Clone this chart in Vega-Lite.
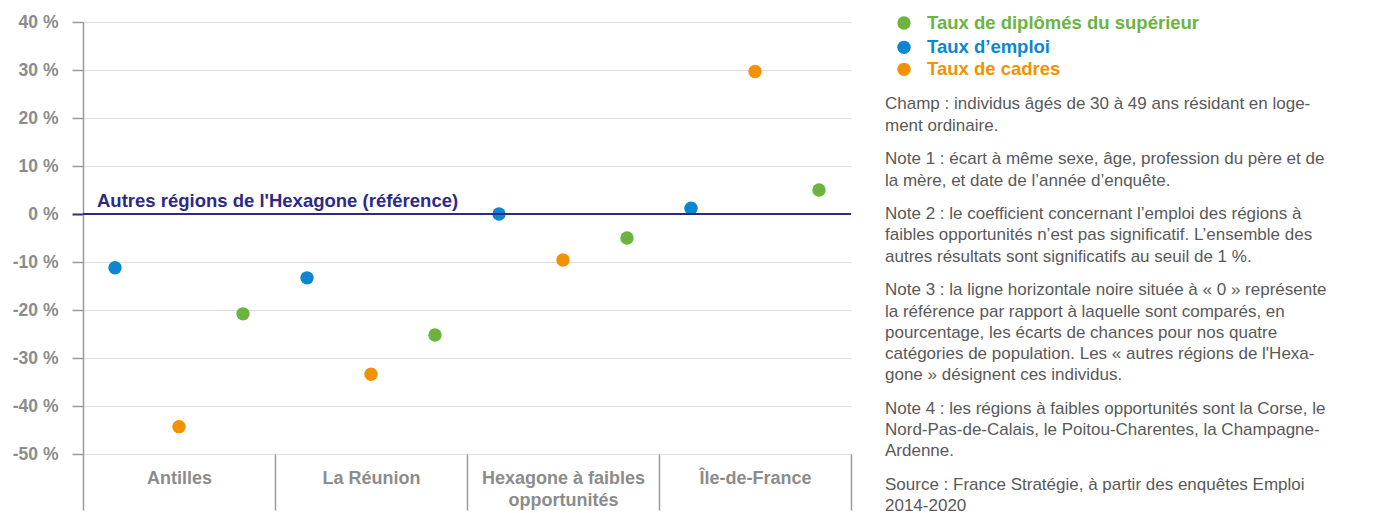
{
  "$schema": "https://vega.github.io/schema/vega-lite/v6.json",
  "padding": {"top": 13, "left": 5, "right": 5, "bottom": 0},
  "background": "white",
  "config": {"view": {"stroke": null}, "font": "Liberation Sans", "concat": {"spacing": 33}},
  "datasets": {
    "points": [
      {"region": "Antilles", "serie": "Taux d’emploi", "valeur": -11.2},
      {"region": "Antilles", "serie": "Taux de cadres", "valeur": -44.3},
      {"region": "Antilles", "serie": "Taux de diplômés du supérieur", "valeur": -20.8},
      {"region": "La Réunion", "serie": "Taux d’emploi", "valeur": -13.3},
      {"region": "La Réunion", "serie": "Taux de cadres", "valeur": -33.4},
      {"region": "La Réunion", "serie": "Taux de diplômés du supérieur", "valeur": -25.2},
      {"region": "Hexagone à faibles opportunités", "serie": "Taux d’emploi", "valeur": 0.0},
      {"region": "Hexagone à faibles opportunités", "serie": "Taux de cadres", "valeur": -9.6},
      {"region": "Hexagone à faibles opportunités", "serie": "Taux de diplômés du supérieur", "valeur": -5.0},
      {"region": "Île-de-France", "serie": "Taux d’emploi", "valeur": 1.2},
      {"region": "Île-de-France", "serie": "Taux de cadres", "valeur": 29.7},
      {"region": "Île-de-France", "serie": "Taux de diplômés du supérieur", "valeur": 5.0}
    ],
    "legende": [
      {"serie": "Taux de diplômés du supérieur", "ligne": -3.85},
      {"serie": "Taux d’emploi", "ligne": -2.7},
      {"serie": "Taux de cadres", "ligne": -1.66}
    ],
    "notes": [
      {"texte": "Champ : individus âgés de 30 à 49 ans résidant en loge-", "ligne": 0},
      {"texte": "ment ordinaire.", "ligne": 1},
      {"texte": "Note 1 : écart à même sexe, âge, profession du père et de", "ligne": 2.6},
      {"texte": "la mère, et date de l’année d’enquête.", "ligne": 3.6},
      {"texte": "Note 2 : le coefficient concernant l’emploi des régions à", "ligne": 5.2},
      {"texte": "faibles opportunités n’est pas significatif. L’ensemble des", "ligne": 6.2},
      {"texte": "autres résultats sont significatifs au seuil de 1 %.", "ligne": 7.2},
      {"texte": "Note 3 : la ligne horizontale noire située à « 0 » représente", "ligne": 8.8},
      {"texte": "la référence par rapport à laquelle sont comparés, en", "ligne": 9.8},
      {"texte": "pourcentage, les écarts de chances pour nos quatre", "ligne": 10.8},
      {"texte": "catégories de population. Les « autres régions de l'Hexa-", "ligne": 11.8},
      {"texte": "gone » désignent ces individus.", "ligne": 12.8},
      {"texte": "Note 4 : les régions à faibles opportunités sont la Corse, le", "ligne": 14.4},
      {"texte": "Nord-Pas-de-Calais, le Poitou-Charentes, la Champagne-", "ligne": 15.4},
      {"texte": "Ardenne.", "ligne": 16.4},
      {"texte": "Source : France Stratégie, à partir des enquêtes Emploi", "ligne": 18.0},
      {"texte": "2014-2020", "ligne": 19.0}
    ]
  },
  "hconcat": [
    {
      "width": 768,
      "height": 432,
      "layer": [
        {
          "data": {"name": "points"},
          "mark": {"type": "circle", "size": 180, "opacity": 1},
          "encoding": {
            "x": {
              "field": "region", "type": "nominal",
              "scale": {"domain": ["Antilles", "La Réunion", "Hexagone à faibles opportunités", "Île-de-France"], "paddingInner": 0, "paddingOuter": 0},
              "axis": {
                "title": null, "domain": false, "grid": false,
                "tickBand": "extent", "tickSize": 56, "tickColor": "#9a9a9a", "tickWidth": 1.5,
                "labelPadding": -41, "labelAngle": 0,
                "labelFontWeight": "bold", "labelFontSize": 18, "labelColor": "#8c8c8c",
                "labelLineHeight": 22,
                "labelExpr": "datum.label == 'Hexagone à faibles opportunités' ? ['Hexagone à faibles', 'opportunités'] : datum.label"
              }
            },
            "xOffset": {
              "field": "serie", "type": "nominal",
              "scale": {"domain": ["Taux d’emploi", "Taux de cadres", "Taux de diplômés du supérieur"], "padding": 0.5}
            },
            "y": {
              "field": "valeur", "type": "quantitative",
              "scale": {"domain": [-50, 40], "nice": false},
              "axis": {
                "title": null, "values": [-50, -40, -30, -20, -10, 0, 10, 20, 30, 40],
                "labelExpr": "datum.value + ' %'",
                "labelFontWeight": "bold", "labelFontSize": 17.5, "labelColor": "#8c8c8c",
                "tickSize": 11, "labelPadding": 14,
                "tickColor": {"condition": {"test": "datum.value === 0", "value": "#2e2a84"}, "value": "#9a9a9a"},
                "tickWidth": {"condition": {"test": "datum.value === 0", "value": 2}, "value": 1.5},
                "domainColor": "#9a9a9a", "domainWidth": 1.5,
                "gridColor": "#dddddd", "gridWidth": 1.2,
                "minExtent": 78
              }
            },
            "color": {
              "field": "serie", "type": "nominal",
              "scale": {"domain": ["Taux de diplômés du supérieur", "Taux d’emploi", "Taux de cadres"], "range": ["#6cb33f", "#0a87d0", "#f39200"]},
              "legend": null
            }
          }
        },
        {
          "data": {"values": [{"ref": 0}]},
          "mark": {"type": "rule", "color": "#2e2a84", "strokeWidth": 2},
          "encoding": {"y": {"field": "ref", "type": "quantitative"}}
        },
        {
          "data": {"values": [{"region": "Antilles", "ref": 0, "label": "Autres régions de l'Hexagone (référence)"}]},
          "mark": {"type": "text", "align": "left", "baseline": "alphabetic", "dx": 14, "dy": -7, "fontWeight": "bold", "fontSize": 18.5, "color": "#2e2a84"},
          "encoding": {
            "x": {"field": "region", "type": "nominal", "bandPosition": 0},
            "y": {"field": "ref", "type": "quantitative"},
            "text": {"field": "label"}
          }
        }
      ]
    },
    {
      "width": 480,
      "height": 484,
      "layer": [
        {
          "data": {"name": "legende"},
          "mark": {"type": "circle", "size": 180, "opacity": 1},
          "encoding": {
            "x": {"value": 19},
            "y": {"field": "ligne", "type": "quantitative", "scale": {"domain": [-3.9, 19], "reverse": true, "nice": false, "zero": false}, "axis": null},
            "color": {
              "field": "serie", "type": "nominal",
              "scale": {"domain": ["Taux de diplômés du supérieur", "Taux d’emploi", "Taux de cadres"], "range": ["#6cb33f", "#0a87d0", "#f39200"]},
              "legend": null
            }
          }
        },
        {
          "data": {"name": "legende"},
          "mark": {"type": "text", "align": "left", "baseline": "middle", "fontWeight": "bold", "fontSize": 18.5},
          "encoding": {
            "x": {"value": 42},
            "y": {"field": "ligne", "type": "quantitative"},
            "text": {"field": "serie"},
            "color": {"field": "serie", "type": "nominal", "legend": null}
          }
        },
        {
          "data": {"name": "notes"},
          "mark": {"type": "text", "align": "left", "baseline": "middle", "fontSize": 17, "color": "#595959"},
          "encoding": {
            "x": {"value": 0},
            "y": {"field": "ligne", "type": "quantitative"},
            "text": {"field": "texte"}
          }
        }
      ]
    }
  ]
}
